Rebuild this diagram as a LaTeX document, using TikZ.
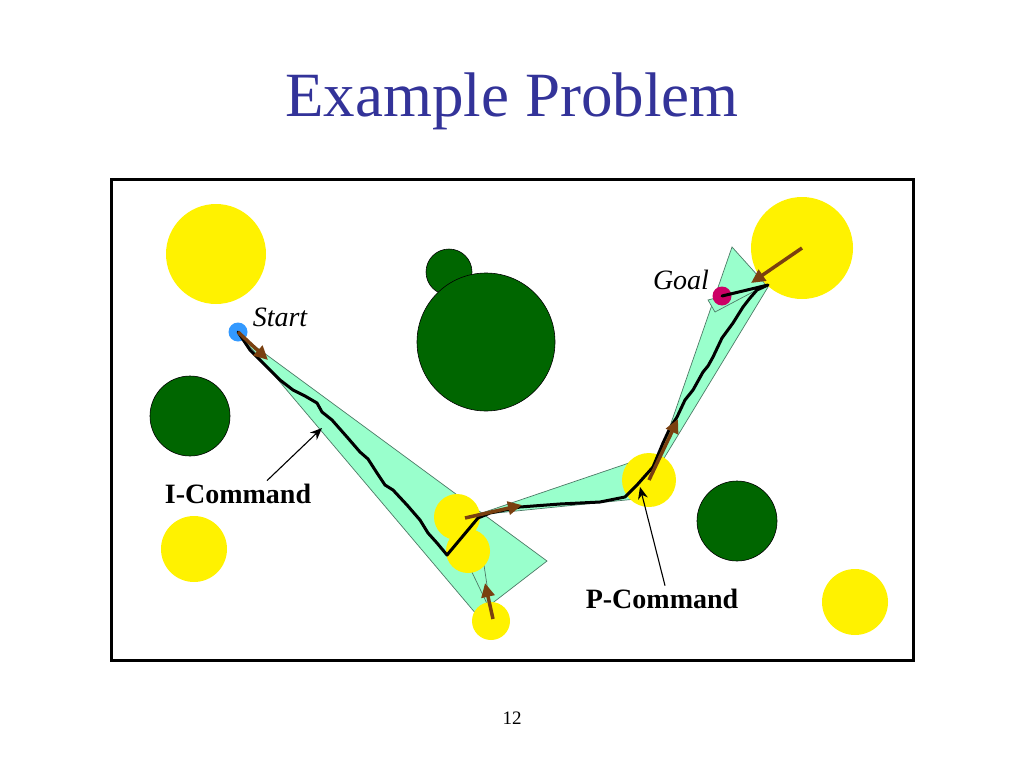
\documentclass[tikz,border=0pt]{standalone}
\usepackage{fontspec}
\setmainfont{Liberation Serif}
\usetikzlibrary{arrows.meta}
\definecolor{titleblue}{HTML}{333399}
\definecolor{darkgreen}{HTML}{006600}
\definecolor{mint}{HTML}{99FFCC}
\definecolor{coneedge}{HTML}{4D7A66}
\definecolor{cmdbrown}{HTML}{7A4010}
\definecolor{startblue}{HTML}{3399FF}
\definecolor{goalpink}{HTML}{CC0066}

\begin{document}
\begin{tikzpicture}[
    x=1pt, y=-1pt,
    hill/.style={circle, fill=yellow, inner sep=0pt},
    rock/.style={circle, draw=black, fill=darkgreen, inner sep=0pt, line width=0.6pt},
    cone/.style={draw=coneedge, fill=mint, line width=0.7pt},
    dot/.style={circle, inner sep=0pt, minimum size=19pt},
    track/.style={line width=3pt, line join=round, line cap=round},
    cmd/.style={-{Triangle[length=14pt,width=13pt]}, draw=cmdbrown, line width=3.5pt},
    pointer/.style={-{Stealth[length=12pt,width=10pt]}, line width=1.1pt},
    cmdlabel/.style={font=\fontsize{28}{32}\selectfont\bfseries},
    place/.style={font=\fontsize{28}{32}\selectfont\itshape}
]
    \useasboundingbox (0,0) rectangle (1024,768);
    \node[text=titleblue, font=\fontsize{63}{70}\selectfont] (title) at (512,101) {Example Problem};
    \draw[line width=3pt] (111,179) rectangle (913,660);

    % command cones
    \draw[cone] (241,336) -- (547,561) -- (477,615) -- cycle;
    \draw[cone] (491,612) -- (459,545) -- (481,545) -- cycle;
    \draw[cone] (476,515) -- (629,463) -- (636,499) -- cycle;
    \draw[cone] (652,478) -- (732,247) -- (768,287) -- cycle;
    \draw[cone] (768,284) -- (708,300) -- (715,312) -- cycle;

    % obstacles
    \node[hill, minimum size=100pt] (y1) at (216,254) {};
    \node[hill, minimum size=66pt] (y2) at (194,549) {};
    \node[hill, minimum size=66pt] (y3) at (855,602) {};
    \node[hill, minimum size=102pt] (y4) at (802,248) {};
    \node[hill, minimum size=46pt] (y5) at (457,517) {};
    \node[hill, minimum size=44pt] (y6) at (468,551) {};
    \node[hill, minimum size=38pt] (y7) at (491,621) {};
    \node[hill, minimum size=54pt] (y8) at (649,480) {};
    \node[rock, minimum size=46pt] (g1) at (449,272) {};
    \node[rock, minimum size=138pt] (g2) at (486,342) {};
    \node[rock, minimum size=80pt] (g3) at (190,416) {};
    \node[rock, minimum size=80pt] (g4) at (737,521) {};

    \node[dot, fill=startblue] (start) at (238,332) {};
    \node[dot, fill=goalpink] (goal) at (722,296) {};
    \node[place] (startlbl) at (280,317) {Start};
    \node[place] (goallbl) at (681,280) {Goal};

    % robot path
    \draw[track] (start.center) -- (250,350) -- (267,367) -- (280,380) -- (293,390) -- (305,396)
        -- (317,403) -- (322,412) -- (332,420) -- (347,437) -- (360,452) -- (368,459) -- (377,473)
        -- (385,485) -- (393,490) -- (407,505) -- (420,520) -- (428,533) -- (437,543) -- (447,555)
        -- (478,518) -- (490,513) -- (520,507) -- (560,504) -- (600,502) -- (625,497) -- (637,485)
        -- (653,467) -- (663,443) -- (670,428) -- (677,417) -- (685,400) -- (693,390) -- (703,372)
        -- (708,366) -- (713,357) -- (722,338) -- (733,323) -- (743,307) -- (750,298) -- (757,290)
        -- (768,285) -- (goal.center);

    % commands
    \coordinate (h1) at (268,360);
    \coordinate (h2) at (522,505);
    \coordinate (h3) at (485,583);
    \coordinate (h4) at (678,419);
    \coordinate (h5) at (751,283);
    \draw[cmd] (start.center) -- (h1);
    \draw[cmd] (465,518) -- (h2);
    \draw[cmd] (493,619) -- (h3);
    \draw[cmd] (y8.center) -- (h4);
    \draw[cmd] (y4.center) -- (h5);

    % labels
    \node[cmdlabel] (icmd) at (238,494) {I-Command};
    \node[cmdlabel] (pcmd) at (662,599) {P-Command};
    \coordinate (ip) at (322,428);
    \coordinate (pp) at (640,487);
    \draw[pointer] ([xshift=29pt]icmd.north) -- (ip);
    \draw[pointer] ([xshift=3pt]pcmd.north) -- (pp);

    \node[font=\fontsize{19}{22}\selectfont] (page) at (512,718) {12};
\end{tikzpicture}
\end{document}
